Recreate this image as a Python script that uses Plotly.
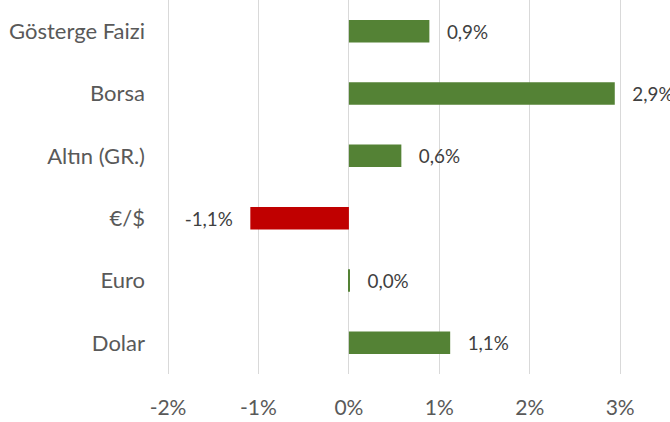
import plotly.graph_objects as go

categories = ["Dolar", "Euro", "€/$", "Altın (GR.)", "Borsa", "Gösterge Faizi"]
values = [1.12, 0.01, -1.09, 0.58, 2.94, 0.89]
tick_values = [-2, -1, 0, 1, 2, 3]
tick_labels = ["-2%", "-1%", "0%", "1%", "2%", "3%"]

GREEN = "#548235"
RED = "#C00000"
colors = [GREEN if v >= 0 else RED for v in values]

NB = "\u00a0"
labels = []
for v in values:
    s = f"{v:.1f}".replace(".", ",") + "%"
    labels.append(NB * 3 + s if v >= 0 else s + NB * 3)

FONT = "Lato"

fig = go.Figure(
    go.Bar(
        x=values,
        y=categories,
        orientation="h",
        marker=dict(color=colors, line=dict(width=0)),
        width=0.36,
        text=labels,
        textposition="outside",
        textfont=dict(family=FONT, size=21, color="#404040"),
        cliponaxis=False,
        hoverinfo="skip",
    )
)

fig.update_layout(
    width=670,
    height=422,
    margin=dict(l=159, r=48, t=0, b=48, pad=0),
    paper_bgcolor="white",
    plot_bgcolor="white",
    showlegend=False,
    font=dict(family=FONT, size=21, color="#595959"),
)

fig.update_xaxes(
    range=[-2.1, 3.02],
    tickvals=tick_values,
    ticktext=tick_labels,
    showgrid=True,
    gridcolor="#D9D9D9",
    gridwidth=1.3,
    zeroline=False,
    showline=False,
    ticks="",
    ticklabelstandoff=19,
    tickfont=dict(family=FONT, size=21, color="#595959"),
)

fig.update_yaxes(
    categoryorder="array",
    categoryarray=categories,
    range=[-0.5, 5.5],
    showgrid=False,
    zeroline=False,
    showline=False,
    ticks="",
    ticklabelstandoff=13,
    tickfont=dict(family=FONT, size=22, color="#595959"),
)

fig.write_html(
    "out.html",
    config={"displayModeBar": False},
    post_script="document.body.style.margin='0px';document.body.style.overflow='hidden';",
)
